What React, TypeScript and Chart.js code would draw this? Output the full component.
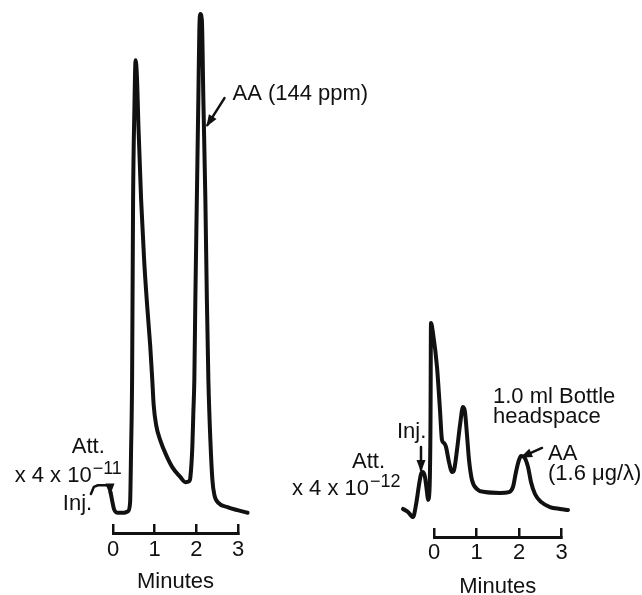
import React, { useEffect, useRef } from 'react';
import { Chart, registerables } from 'chart.js';

Chart.register(...registerables);

// ---------- data ----------
const tickMinutes = [0, 1, 2, 3];
const axisTitle = 'Minutes';

// Left chromatogram (Att. x 4 x 10^-11): time in minutes, response relative to tallest peak
const leftTime = [
  -0.06, -0.024, 0.024, 0.12, 0.265, 0.361, 0.41, 0.434, 0.458, 0.482, 0.513, 0.542, 0.573,
  0.614, 0.675, 0.747, 0.819, 0.892, 0.94, 0.976, 1.036, 1.133, 1.277, 1.422, 1.614, 1.735,
  1.831, 1.855, 1.904, 1.928, 1.952, 1.976, 2.012, 2.048, 2.072, 2.096, 2.133, 2.169, 2.217,
  2.253, 2.289, 2.337, 2.386, 2.434, 2.53, 2.747, 2.988, 3.229,
];
const leftResponse = [
  7.9, 6.4, 4.6, 3.9, 3.9, 4.2, 5.8, 16.0, 29.5, 64.2, 81.5, 91.1, 88.2,
  77.6, 64.2, 52.6, 43.9, 36.2, 29.9, 24.7, 20.8, 17.9, 15.0, 12.7, 10.8, 9.8,
  10.0, 10.6, 16.6, 23.1, 29.5, 44.9, 64.2, 83.4, 96.9, 100, 98.8, 83.4, 64.2,
  44.9, 29.5, 17.9, 10.2, 7.3, 5.8, 5.0, 4.4, 3.9,
];

// Right chromatogram (Att. x 4 x 10^-12, 1.0 ml bottle headspace)
const rightTime = [
  -0.729, -0.612, -0.494, -0.424, -0.353, -0.306, -0.259, -0.212, -0.165, -0.141, -0.106,
  -0.082, -0.071, -0.024, 0.071, 0.141, 0.188, 0.235, 0.282, 0.353, 0.424, 0.471, 0.541,
  0.612, 0.682, 0.729, 0.776, 0.824, 0.894, 1.012, 1.2, 1.553, 1.765, 1.859, 1.929, 2.0,
  2.047, 2.118, 2.212, 2.282, 2.376, 2.518, 2.729, 2.965, 3.153,
];
const rightResponse = [
  13.1, 11.7, 9.3, 15.0, 24.3, 29.4, 30.4, 28.0, 21.0, 17.3, 22.0,
  54.7, 100, 95.3, 79.4, 59.3, 45.3, 43.9, 42.1, 35.0, 30.4, 31.3, 40.7,
  52.3, 60.7, 58.4, 47.7, 36.0, 26.6, 22.4, 21.0, 20.6, 21.0, 23.4, 30.4, 36.0,
  37.9, 37.4, 32.7, 25.7, 20.1, 16.4, 14.0, 13.1, 12.6,
];

// ---------- annotations (anchored in data units: minutes, response) ----------
type Note =
  | { kind: 'text'; text: string; x: number; y: number; sup?: string }
  | { kind: 'arrow'; pts: [number, number][] };

const leftNotes: Note[] = [
  { kind: 'text', text: 'Att.', x: -0.988, y: 15.4 },
  { kind: 'text', text: 'x 4 x 10', sup: '\u221211', x: -2.361, y: 9.8 },
  { kind: 'text', text: 'Inj.', x: -1.205, y: 4.4 },
  { kind: 'arrow', pts: [[-0.53, 7.5], [-0.458, 8.9], [-0.361, 9.2], [-0.145, 9.2], [-0.072, 8.5], [-0.072, 7.6]] },
  { kind: 'text', text: 'AA (144 ppm)', x: 2.867, y: 83.4 },
  { kind: 'arrow', pts: [[2.675, 83.8], [2.265, 78.6]] },
];

const rightNotes: Note[] = [
  { kind: 'text', text: '1.0 ml Bottle', x: 1.388, y: 62.6 },
  { kind: 'text', text: 'headspace', x: 1.388, y: 53.3 },
  { kind: 'text', text: 'AA', x: 2.682, y: 36.0 },
  { kind: 'text', text: '(1.6 \u03bcg/\u03bb)', x: 2.682, y: 26.6 },
  { kind: 'arrow', pts: [[2.541, 41.6], [2.071, 37.4]] },
  { kind: 'text', text: 'Inj.', x: -0.871, y: 46.3 },
  { kind: 'arrow', pts: [[-0.306, 42.1], [-0.306, 31.3]] },
  { kind: 'text', text: 'Att.', x: -1.929, y: 32.2 },
  { kind: 'text', text: 'x 4 x 10', sup: '\u221212', x: -3.341, y: 19.6 },
];

// ---------- styling ----------
const ink = '#111111';
const family = "'Liberation Sans', Arial, Helvetica, sans-serif";
const textSize = 22;

function notesPlugin(notes: Note[]) {
  return {
    id: 'notes',
    afterDatasetsDraw(chart: any) {
      const { ctx } = chart;
      const xs = chart.scales.x;
      const ys = chart.scales.y;
      const px = (v: number) => xs.getPixelForValue(v);
      const py = (v: number) => ys.getPixelForValue(v);
      ctx.save();
      ctx.fillStyle = ink;
      ctx.strokeStyle = ink;
      ctx.textBaseline = 'alphabetic';
      ctx.textAlign = 'left';
      for (const n of notes) {
        if (n.kind === 'text') {
          ctx.font = `${textSize}px ${family}`;
          const x0 = px(n.x);
          const y0 = py(n.y);
          ctx.fillText(n.text, x0, y0);
          if (n.sup) {
            const w = ctx.measureText(n.text).width;
            ctx.font = `18px ${family}`;
            ctx.fillText(n.sup, x0 + w + 1, y0 - 8);
          }
        } else {
          const p = n.pts.map(([a, b]) => [px(a), py(b)]);
          ctx.lineWidth = 2.5;
          ctx.lineJoin = 'round';
          ctx.lineCap = 'round';
          ctx.beginPath();
          p.forEach(([a, b], i) => (i === 0 ? ctx.moveTo(a, b) : ctx.lineTo(a, b)));
          ctx.stroke();
          const [ex, ey] = p[p.length - 1];
          const [sx, sy] = p[p.length - 2];
          const ang = Math.atan2(ey - sy, ex - sx);
          const L = 10;
          const W = 4.5;
          ctx.beginPath();
          ctx.moveTo(ex + Math.cos(ang) * 2, ey + Math.sin(ang) * 2);
          ctx.lineTo(ex - Math.cos(ang) * L - Math.sin(ang) * W, ey - Math.sin(ang) * L + Math.cos(ang) * W);
          ctx.lineTo(ex - Math.cos(ang) * L + Math.sin(ang) * W, ey - Math.sin(ang) * L - Math.cos(ang) * W);
          ctx.closePath();
          ctx.fill();
        }
      }
      ctx.restore();
    },
  };
}

function makeConfig(
  times: number[],
  values: number[],
  notes: Note[],
  pad: { left: number; right: number; top: number },
  axisHeight: number,
  labelPadding: number,
): any {
  return {
    type: 'line',
    data: {
      datasets: [
        {
          data: times.map((t, i) => ({ x: t, y: values[i] })),
          borderColor: ink,
          borderWidth: 4,
          pointRadius: 0,
          fill: false,
          cubicInterpolationMode: 'monotone',
          borderJoinStyle: 'round',
          borderCapStyle: 'round',
          clip: false,
        },
      ],
    },
    options: {
      animation: false,
      responsive: false,
      devicePixelRatio: 1,
      events: [],
      layout: { padding: { left: pad.left, right: pad.right, top: pad.top, bottom: 0 } },
      plugins: { legend: { display: false }, tooltip: { enabled: false } },
      scales: {
        x: {
          type: 'linear',
          afterDataLimits: (s: any) => {
            s.min = tickMinutes[0];
            s.max = tickMinutes[tickMinutes.length - 1];
          },
          afterBuildTicks: (s: any) => {
            s.ticks = tickMinutes.map((v) => ({ value: v }));
          },
          afterFit: (s: any) => {
            s.height = axisHeight;
          },
          ticks: {
            padding: labelPadding,
            color: ink,
            font: { family, size: textSize },
            maxRotation: 0,
            callback: (v: any) => String(v),
          },
          grid: {
            display: true,
            drawOnChartArea: false,
            drawTicks: true,
            tickLength: -9,
            lineWidth: 2.5,
            color: ink,
          },
          border: { display: true, width: 3, color: ink },
          title: {
            display: true,
            text: axisTitle,
            color: ink,
            font: { family, size: textSize },
            padding: { top: 0, bottom: 0 },
          },
        },
        y: { display: false, min: 0, max: 100 },
      },
    },
    plugins: [notesPlugin(notes)],
  };
}

function ChromCanvas(props: {
  left: number;
  width: number;
  height: number;
  cfg: any;
}) {
  const ref = useRef<HTMLCanvasElement | null>(null);
  useEffect(() => {
    if (!ref.current) return;
    const chart = new Chart(ref.current, props.cfg);
    return () => chart.destroy();
  }, []);
  return (
    <canvas
      ref={ref}
      width={props.width}
      height={props.height}
      style={{
        position: 'absolute',
        left: props.left,
        top: 0,
        width: props.width,
        height: props.height,
      }}
    />
  );
}

export default function App() {
  // left panel canvas: axis 0 -> 113px, 3 -> 238px, peak top 14px, axis line 533px
  const leftCfg = makeConfig(leftTime, leftResponse, leftNotes, { left: 113, right: 162, top: 14 }, 62, 13);
  // right panel canvas: axis 0 -> 434px, 3 -> 561.5px, peak top 323px, axis line 537px
  const rightCfg = makeConfig(rightTime, rightResponse, rightNotes, { left: 164, right: 80.5, top: 323 }, 63, 12);
  return (
    <div
      style={{
        position: 'absolute',
        left: 0,
        top: 0,
        width: 642,
        height: 595,
        overflow: 'hidden',
        background: '#ffffff',
      }}
    >
      <ChromCanvas left={0} width={400} height={595} cfg={leftCfg} />
      <ChromCanvas left={270} width={372} height={600} cfg={rightCfg} />
    </div>
  );
}
